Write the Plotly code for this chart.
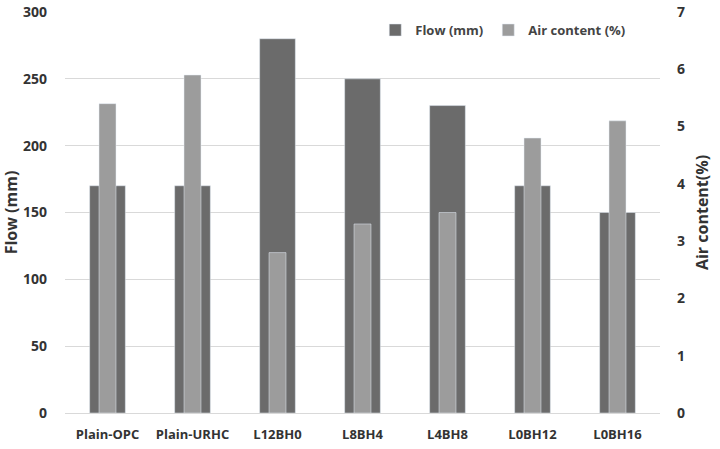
import plotly.graph_objects as go

categories = ["Plain-OPC", "Plain-URHC", "L12BH0", "L8BH4", "L4BH8", "L0BH12", "L0BH16"]
flow_mm = [170, 170, 280, 250, 230, 170, 150]
air_content = [5.4, 5.9, 2.8, 3.3, 3.5, 4.8, 5.1]

font_family = "Open Sans, DejaVu Sans, sans-serif"
txt = "#333333"

fig = go.Figure()
fig.add_trace(go.Bar(x=categories, y=flow_mm, name="<b>Flow (mm)</b>", marker_color="#6b6b6b",
                     width=0.42, yaxis="y"))
fig.add_trace(go.Bar(x=categories, y=air_content, name="<b>Air content (%)</b>", marker_color="#9c9c9c",
                     width=0.2, yaxis="y2"))

fig.update_layout(
    width=720, height=449,
    margin=dict(l=65, r=60, t=12, b=36),
    paper_bgcolor="white", plot_bgcolor="white",
    barmode="overlay",
    font=dict(family=font_family, size=12, color=txt),
    showlegend=True,
    legend=dict(orientation="h", x=0.95, y=0.955, xanchor="right", yanchor="middle",
                font=dict(size=13, color="#444444", family=font_family),
                bgcolor="rgba(255,255,255,0)", itemwidth=30, traceorder="normal"),
    xaxis=dict(showgrid=False, showline=True, linecolor="#d9d9d9", linewidth=1,
               tickfont=dict(size=13, color=txt, family=font_family),
               ticks="", ticklabelstandoff=9, automargin=False,
               tickprefix="<b>", ticksuffix="</b>"),
    yaxis=dict(range=[0, 300], dtick=50, showgrid=True, gridcolor="#d9d9d9", gridwidth=1,
               zeroline=False, showline=False, ticks="", automargin=False,
               tickfont=dict(size=14, color=txt),
               ticklabelstandoff=17,
               tickprefix="<b>", ticksuffix="</b>",
               title=dict(text="<b>Flow (mm)</b>", font=dict(size=16, color=txt), standoff=6)),
    yaxis2=dict(range=[0, 7], dtick=1, overlaying="y", side="right", showgrid=False,
                zeroline=False, showline=False, ticks="", automargin=False,
                tickfont=dict(size=14, color=txt),
                ticklabelstandoff=16,
                tickprefix="<b>", ticksuffix="</b>",
                title=dict(text="<b>Air content(%)</b>", font=dict(size=16, color=txt), standoff=12)),
)

fig.write_html("out.html")
